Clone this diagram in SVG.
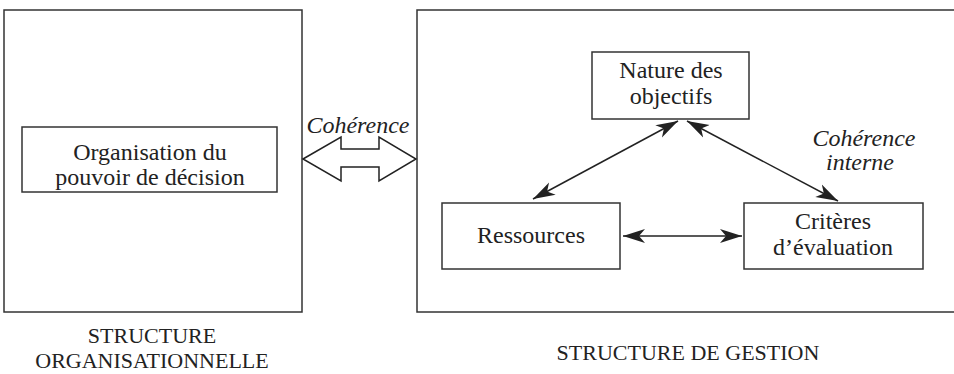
<svg xmlns="http://www.w3.org/2000/svg" width="954" height="374" viewBox="0 0 954 374">
<style>
.box{fill:#fff;stroke:#333;stroke-width:1.5}
.t{font-family:"Liberation Serif","Times New Roman",serif;font-size:24px;fill:#222;text-anchor:middle}
.b{font-size:22px}
.i{font-style:italic}
.ln{stroke:#222;stroke-width:1.5;fill:none}
</style>
<defs>
<marker id="ah" markerUnits="userSpaceOnUse" markerWidth="24" markerHeight="16" refX="22" refY="8" orient="auto-start-reverse" viewBox="0 0 24 16">
<path d="M0,1 L22,8 L0,15 L6,8 z" fill="#222"/>
</marker>
</defs>
<g id="structure-org">
<rect class="box" x="4" y="10" width="298" height="302"/>
<text class="t b" x="152" y="343">STRUCTURE</text>
<text class="t b" x="152" y="368">ORGANISATIONNELLE</text>
</g>
<g id="structure-gestion">
<rect class="box" x="417" y="10" width="560" height="302"/>
<text class="t b" x="688" y="360">STRUCTURE DE GESTION</text>
</g>
<g id="organisation">
<rect class="box" x="22" y="127" width="255" height="65"/>
<text class="t" x="150" y="160">Organisation du</text>
<text class="t" x="150" y="185">pouvoir de décision</text>
</g>
<g id="nature">
<rect class="box" x="592" y="52" width="157" height="67"/>
<text class="t" x="671" y="78">Nature des</text>
<text class="t" x="671" y="104">objectifs</text>
</g>
<g id="ressources">
<rect class="box" x="442" y="203" width="178" height="66"/>
<text class="t" x="531" y="243">Ressources</text>
</g>
<g id="criteres">
<rect class="box" x="744" y="203" width="179" height="66"/>
<text class="t" x="833" y="229">Critères</text>
<text class="t" x="833" y="255">d’évaluation</text>
</g>
<g id="connectors">
<path class="ln" d="M303,159 L341,137 L341,149 L379,149 L379,137 L416,159 L379,181 L379,167 L341,167 L341,181 Z" fill="#fff"/>
<text class="t i" x="358" y="133">Cohérence</text>
<line class="ln" x1="678" y1="121" x2="533" y2="199" marker-start="url(#ah)" marker-end="url(#ah)"/>
<line class="ln" x1="687" y1="121" x2="838" y2="201" marker-start="url(#ah)" marker-end="url(#ah)"/>
<line class="ln" x1="623" y1="236" x2="742" y2="236" marker-start="url(#ah)" marker-end="url(#ah)"/>
<text class="t i" x="864" y="146">Cohérence</text>
<text class="t i" x="860" y="170">interne</text>
</g>
</svg>
